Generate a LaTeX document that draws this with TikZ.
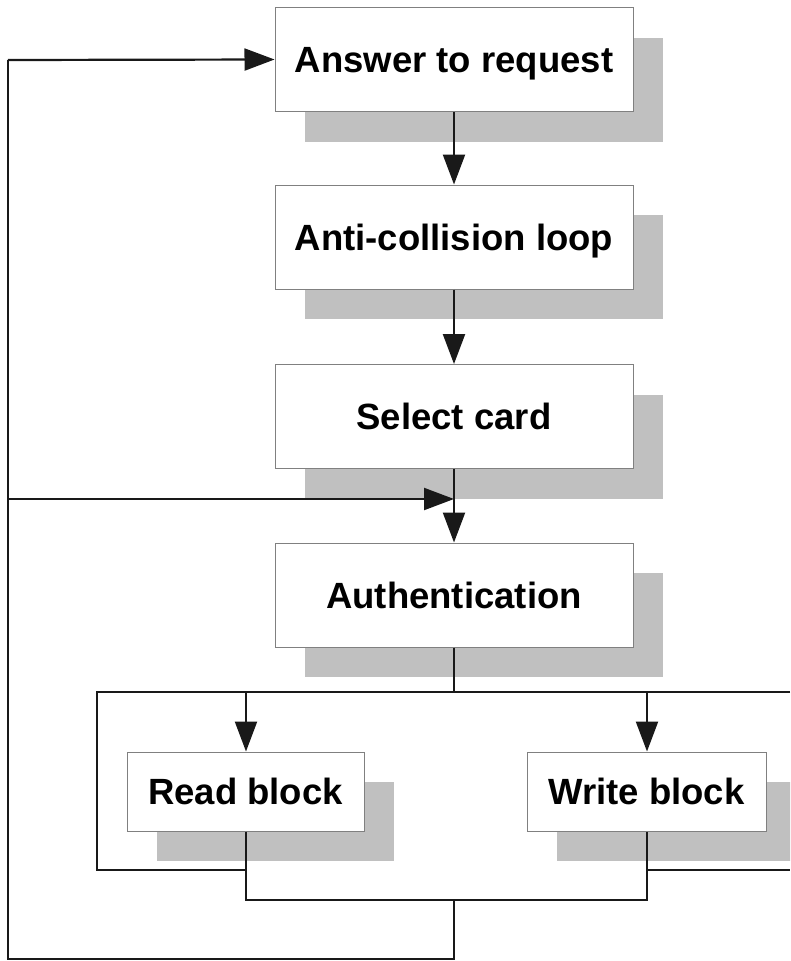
\documentclass[tikz,border=0pt]{standalone}
\usepackage{fontspec}
\setmainfont{Liberation Sans}
\usetikzlibrary{arrows.meta,shadows}
\definecolor{shadowgray}{HTML}{C0C0C0}
\definecolor{boxline}{HTML}{808080}
\tikzset{
  box/.style={draw=boxline, line width=1pt, fill=white, rectangle,
    font=\fontsize{36.5}{40}\selectfont\bfseries,
    text height=26pt, text depth=0pt, inner sep=0pt,
    drop shadow={shadow xshift=29.5pt, shadow yshift=-30pt, fill=shadowgray, opacity=1, draw=none}},
  bigbox/.style={box, minimum width=358pt, minimum height=104pt},
  smallbox/.style={box, minimum height=79pt},
  conn/.style={line width=2.2pt, draw=black!90},
  arr/.style={conn, -{Triangle[length=30pt,width=22pt]}},
}
\begin{document}
\begin{tikzpicture}[x=1pt,y=-1pt]
\useasboundingbox (0,0) rectangle (790,961);
\clip (0,0) rectangle (790,961);
\fill[white] (0,0) rectangle (790,961);
% nodes
\node[bigbox] (ans) at (454,59.5) {Answer to request};
\node[bigbox] (anti) at (454,237) {Anti-collision loop};
\node[bigbox] (sel) at (454,416.5) {Select card};
\node[bigbox] (auth) at (454,595) {Authentication};
\node[smallbox, minimum width=237pt] (read) at (245.5,791.5) {Read block};
\node[smallbox, minimum width=239pt] (write) at (646.5,791.5) {Write block};
% coordinates
\coordinate (topleft) at (8,60);
\coordinate (midleft) at (8,499);
\coordinate (midjoin) at (454,499);
\coordinate (botleft) at (8,959);
\coordinate (botmid) at (454,959);
\coordinate (bjoin) at (454,900);
\coordinate (rbot) at (246,900);
\coordinate (wbot) at (647,900);
\coordinate (split) at (454,692);
\coordinate (sl) at (97,692);
\coordinate (sr) at (790,692);
\coordinate (rt) at (246,692);
\coordinate (wt) at (647,692);
\coordinate (ll) at (97,870);
\coordinate (lr) at (246,870);
\coordinate (rl) at (647,870);
\coordinate (rr) at (790,870);
% connectors
\draw[arr] (ans.south) -- (anti.north);
\draw[arr] (anti.south) -- (sel.north);
\draw[arr] (sel.south) -- (auth.north);
\draw[conn] (auth.south) -- (split);
\draw[conn] (sr) -- (sl) -- (ll) -- (lr);
\draw[arr] (rt) -- (rt |- read.north);
\draw[arr] (wt) -- (wt |- write.north);
\draw[conn] (rl) -- (rr);
\draw[conn] (rt |- read.south) -- (rbot) -- (wbot) -- (wt |- write.south);
\draw[conn] (bjoin) -- (botmid) -- (botleft) -- (topleft);
\draw[arr] (topleft) -- (ans.west);
\draw[arr] (midleft) -- (midjoin);
\end{tikzpicture}
\end{document}
